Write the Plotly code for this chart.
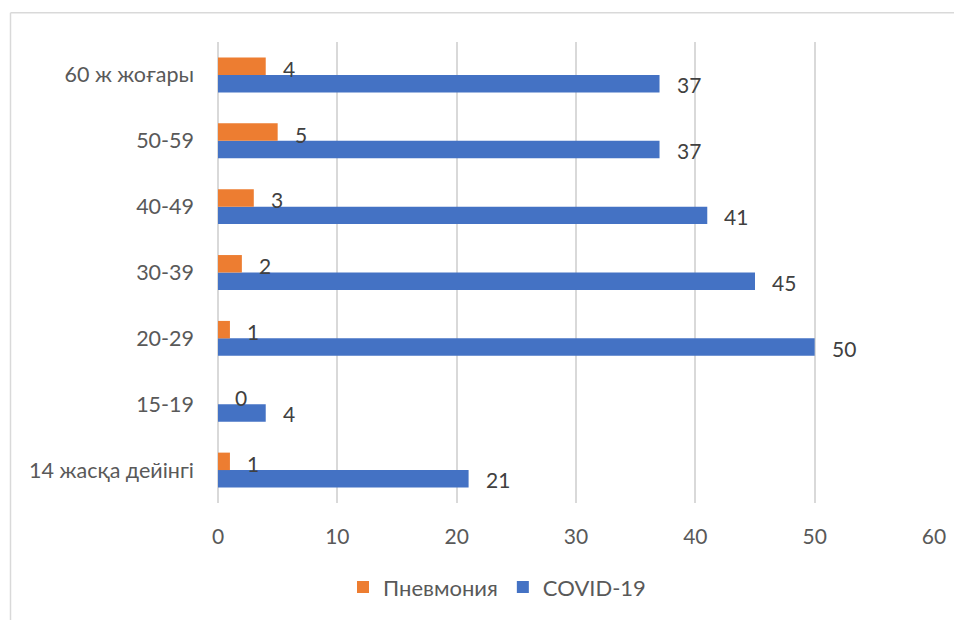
import plotly.graph_objects as go

categories = ["14 жасқа дейінгі", "15-19", "20-29", "30-39", "40-49", "50-59", "60 ж жоғары"]
covid = [21, 4, 50, 45, 41, 37, 37]
pneumonia = [1, 0, 1, 2, 3, 5, 4]
x_ticks = [0, 10, 20, 30, 40, 50, 60]

FONT = "Lato"
OFF = 8  # default page body margin
W, H = 962 - OFF, 620 - OFF
L, R, T, B = 218 - OFF, 28, 42 - OFF, 113
PW, PH = W - L - R, H - T - B

def px_x(p):
    return (p - OFF - L) / PW

def px_y(p):
    return (H - B - (p - OFF)) / PH

fig = go.Figure()
fig.add_trace(go.Bar(
    y=categories, x=covid, orientation="h", name="COVID-19",
    marker=dict(color="#4472C4", line=dict(width=0)), legendrank=2,
))
fig.add_trace(go.Bar(
    y=categories, x=pneumonia, orientation="h", name="Пневмония",
    marker=dict(color="#ED7D31", line=dict(width=0)), legendrank=1,
))

annotations = []
bar_off = 8.75
for cat, v in zip(categories, covid):
    annotations.append(dict(x=v, y=cat, text=str(v), showarrow=False, xanchor="left",
                            yanchor="middle", xshift=15, yshift=-bar_off - 1,
                            font=dict(family=FONT, size=21, color="#404040")))
for cat, v in zip(categories, pneumonia):
    annotations.append(dict(x=v, y=cat, text=str(v), showarrow=False, xanchor="left",
                            yanchor="middle", xshift=15, yshift=bar_off - 2,
                            font=dict(family=FONT, size=21, color="#404040")))

fig.update_layout(
    width=W, height=H,
    margin=dict(l=L, r=R, t=T, b=B, pad=0),
    paper_bgcolor="white", plot_bgcolor="white",
    barmode="group", bargap=0.47, bargroupgap=0,
    font=dict(family=FONT, size=21, color="#595959"),
    xaxis=dict(range=[0, 60], tickvals=x_ticks, showgrid=True, gridcolor="#d9d9d9",
               gridwidth=1.5, zeroline=True, zerolinecolor="#d9d9d9", zerolinewidth=1.5,
               showline=False, ticks="", ticklabelstandoff=19,
               tickfont=dict(family=FONT, size=21, color="#595959")),
    yaxis=dict(showgrid=False, zeroline=False, showline=False, ticks="",
               ticklabelstandoff=23,
               tickfont=dict(family=FONT, size=21.5, color="#595959")),
    legend=dict(orientation="h", x=px_x(497), xanchor="center", y=px_y(592), yanchor="middle",
                font=dict(family=FONT, size=22, color="#595959"), itemwidth=30,
                traceorder="normal"),
    annotations=annotations,
    shapes=[
        dict(type="line", xref="paper", yref="paper", x0=px_x(10.5), x1=px_x(980),
             y0=px_y(12.5), y1=px_y(12.5), line=dict(color="#d9d9d9", width=1.5)),
        dict(type="line", xref="paper", yref="paper", x0=px_x(10.5), x1=px_x(10.5),
             y0=px_y(12.5), y1=px_y(660), line=dict(color="#d9d9d9", width=1.5)),
    ],
    showlegend=True,
)

fig.write_html("out.html")
